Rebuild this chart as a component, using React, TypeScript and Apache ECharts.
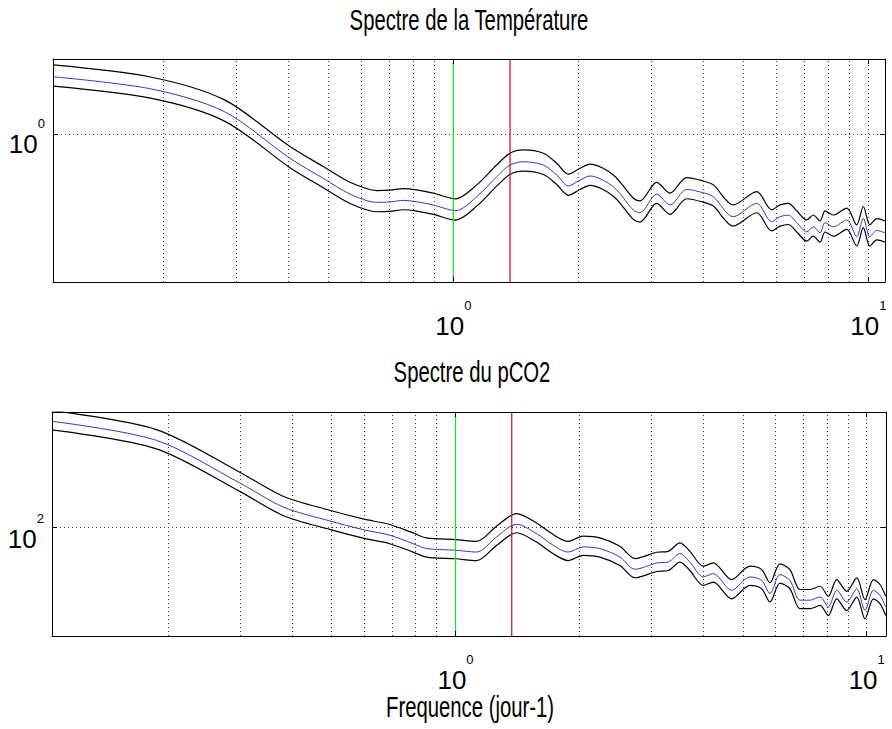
import React, { useEffect, useRef } from 'react';
import * as echarts from 'echarts';

// ---- data ----
const tempFreq = [0.1085, 0.1875, 0.281, 0.404, 0.486, 0.564, 0.654, 0.704, 0.758, 0.816, 0.895, 1.013, 1.139, 1.272, 1.369, 1.475, 1.648, 1.775, 1.893, 2.02, 2.135, 2.43, 2.715, 2.818, 3.091, 3.328, 3.651, 4.003, 4.232, 4.728, 5.384, 5.851, 6.127, 6.416, 6.723, 7.105, 7.371, 7.65, 7.866, 8.236, 8.872, 9.376, 9.727, 10.09, 10.48, 10.97];
const tempPsd = [1.738, 1.545, 1.243, 0.795, 0.656, 0.564, 0.521, 0.523, 0.531, 0.524, 0.508, 0.481, 0.55, 0.666, 0.745, 0.769, 0.745, 0.677, 0.61, 0.645, 0.671, 0.605, 0.484, 0.472, 0.564, 0.508, 0.59, 0.571, 0.55, 0.454, 0.516, 0.433, 0.454, 0.461, 0.429, 0.393, 0.412, 0.389, 0.429, 0.412, 0.44, 0.375, 0.447, 0.375, 0.398, 0.389];

const co2Freq = [0.1044, 0.1873, 0.2986, 0.3806, 0.4944, 0.5958, 0.692, 0.7885, 0.85, 1.0, 1.125, 1.258, 1.407, 1.574, 1.728, 1.879, 2.044, 2.244, 2.51, 2.731, 3.084, 3.291, 3.513, 3.715, 4.004, 4.234, 4.693, 5.2, 5.553, 5.817, 6.152, 6.506, 6.881, 7.278, 7.698, 8.064, 8.453, 8.94, 9.456, 9.905, 10.38, 10.77, 11.12];
const co2Psd = [307, 251, 160, 124, 106.9, 97.5, 91.9, 84.1, 79.8, 78.4, 76.9, 90.2, 103.2, 93.5, 82.6, 76.9, 81.2, 79.8, 73.0, 64.1, 68.5, 69.2, 75.7, 69.2, 59.1, 61.2, 51.3, 59.1, 57.0, 49.6, 60.6, 57.0, 46.2, 46.2, 47.8, 43.0, 51.3, 45.3, 52.2, 41.5, 51.3, 48.7, 43.0];

// confidence interval factors (upper / lower band relative to the estimate)
const ciUpper = 1.12;
const ciLower = 0.914;

const gridFreqs = [0.2, 0.3, 0.4, 0.5, 0.6, 0.7, 0.8, 0.9, 1, 2, 3, 4, 5, 6, 7, 8, 9, 10];
const greenFreq = 1.0;
const redFreq = 1.37;

const tempXRange = [0.1085, 10.97];
const tempYRange = [0.2427, 2.061];
const co2XRange = [0.1044, 11.14];
const co2YRange = [31.62, 338.8];
const tempGridY = 1;
const co2GridY = 100;

const titles = ['Spectre de la Température', 'Spectre du pCO2'];
const xLabel = 'Frequence (jour-1)';

const FONT = '"Liberation Sans", Arial, sans-serif';

function powLabel(v: number) {
  const l = Math.log10(v);
  const e = Math.round(l);
  if (Math.abs(l - e) > 1e-6) return '';
  return `{b|10}{s|${e}}`;
}

const richLabel = {
  b: { fontFamily: FONT, fontSize: 26, lineHeight: 40, verticalAlign: 'bottom', color: '#000' },
  s: { fontFamily: FONT, fontSize: 13, lineHeight: 13, verticalAlign: 'top', color: '#000' },
};

function axisBase(gridIndex: number, range: number[], position: string) {
  return {
    type: 'log', logBase: 10, gridIndex, position, min: range[0], max: range[1],
    axisLine: { show: true, onZero: false, lineStyle: { color: '#000', width: 1 } },
    axisTick: { show: true, inside: true, length: 5, lineStyle: { color: '#000' } },
    splitLine: { show: false },
    z: 10,
  };
}
function xAx(gridIndex: number, range: number[], position: string, labels: boolean) {
  return {
    ...axisBase(gridIndex, range, position),
    axisLabel: labels ? { show: true, margin: 17, formatter: powLabel, rich: richLabel } : { show: false },
  };
}
function yAx(gridIndex: number, range: number[], position: string, labels: boolean, padTop: number) {
  return {
    ...axisBase(gridIndex, range, position),
    axisLabel: labels
      ? { show: true, margin: 8, padding: [padTop, 0, 0, 0], formatter: powLabel, rich: richLabel }
      : { show: false },
  };
}

const pairs = (f: number[], v: number[], k = 1) => f.map((x, i) => [x, v[i] * k]);

function vLine(xi: number, yi: number, yRange: number[], f: number, color: string) {
  return {
    type: 'line', xAxisIndex: xi, yAxisIndex: yi, showSymbol: false, symbol: 'none', silent: true, z: 6,
    data: [[f, yRange[0]], [f, yRange[1]]],
    lineStyle: { color, width: 1.3, type: 'solid', opacity: 1 },
    itemStyle: { color },
    emphasis: { disabled: true },
  };
}

function plotSeries(xi: number, yi: number, freq: number[], psd: number[], gridY: number, yRange: number[]) {
  const base = { type: 'line', xAxisIndex: xi, yAxisIndex: yi, showSymbol: false, symbol: 'none', silent: true };
  return [
    {
      ...base, z: 1, data: pairs(freq, psd), lineStyle: { opacity: 0 },
      markLine: {
        z: 1, silent: true, symbol: 'none', label: { show: false },
        lineStyle: { color: '#3a3a3a', type: [1, 3], width: 1, opacity: 1 },
        // the grid line at the green marker's frequency is hidden beneath the marker
        data: [...gridFreqs.filter((f) => f !== greenFreq).map((f) => ({ xAxis: f })), { yAxis: gridY }],
      },
    },
    { ...base, z: 4, smooth: 0.3, data: pairs(freq, psd, ciUpper), lineStyle: { color: '#000', width: 1.2 } },
    { ...base, z: 4, smooth: 0.3, data: pairs(freq, psd, ciLower), lineStyle: { color: '#000', width: 1.2 } },
    { ...base, z: 5, smooth: 0.3, data: pairs(freq, psd), lineStyle: { color: '#3434c4', width: 1 } },
    vLine(xi, yi, yRange, greenFreq, '#22dd22'),
    vLine(xi, yi, yRange, redFreq, '#cc1c1c'),
  ];
}

function textEl(text: string, x: number, y: number) {
  return {
    type: 'text', x, y, scaleY: 1.44, silent: true,
    style: { text, fontSize: 20.3, fontFamily: FONT, fill: '#000', align: 'center', verticalAlign: 'middle' },
  };
}

export default function App() {
  const ref = useRef<HTMLDivElement>(null);
  useEffect(() => {
    if (!ref.current) return;
    const chart = echarts.init(ref.current, undefined, { renderer: 'svg' });
    chart.setOption({
      animation: false,
      backgroundColor: '#fff',
      grid: [
        { left: 53, top: 59, width: 832, height: 223, containLabel: false, outerBoundsMode: 'none' },
        { left: 52, top: 412, width: 834, height: 224, containLabel: false, outerBoundsMode: 'none' },
      ],
      xAxis: [
        xAx(0, tempXRange, 'bottom', true),
        xAx(0, tempXRange, 'top', false),
        xAx(1, co2XRange, 'bottom', true),
        xAx(1, co2XRange, 'top', false),
      ],
      yAxis: [
        yAx(0, tempYRange, 'left', true, 6),
        yAx(0, tempYRange, 'right', false, 0),
        yAx(1, co2YRange, 'left', true, 9),
        yAx(1, co2YRange, 'right', false, 0),
      ],
      series: [
        ...plotSeries(0, 0, tempFreq, tempPsd, tempGridY, tempYRange),
        ...plotSeries(2, 2, co2Freq, co2Psd, co2GridY, co2YRange),
      ],
      graphic: [
        textEl(titles[0], 469, 20),
        textEl(titles[1], 472, 371.7),
        textEl(xLabel, 470, 707),
      ],
    });
    return () => chart.dispose();
  }, []);
  return <div ref={ref} style={{ position: 'fixed', left: 0, top: 0, width: 892, height: 729, background: '#fff' }} />;
}
